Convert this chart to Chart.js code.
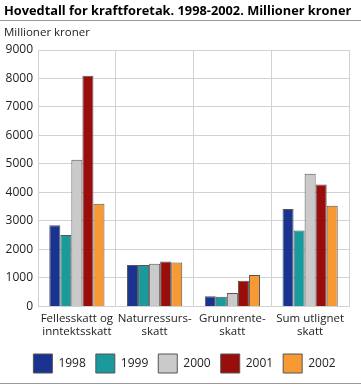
<!DOCTYPE html>
<html>
<head>
<meta charset="utf-8">
<script src="https://cdn.jsdelivr.net/npm/chart.js@4/dist/chart.umd.min.js"></script>
<style>
  body { margin: 0; width: 361px; height: 386px; overflow: hidden; background: #fff; font-family: "Open Sans", sans-serif; }
  #wrap { position: relative; width: 361px; height: 386px; }
  #title { position: absolute; left: 4px; top: 1px; font-size: 12.8px; font-weight: bold; color: #000; white-space: nowrap; }
  #unit { position: absolute; left: 4px; top: 24px; font-size: 11.5px; color: #222; }
  .rule { position: absolute; left: 0; width: 361px; height: 1px; background: #999; }
  canvas { position: absolute; left: 0; top: 0; }
</style>
</head>
<body>
<div id="wrap">
  <canvas id="chart" width="361" height="386"></canvas>
  <div id="title">Hovedtall for kraftforetak. 1998-2002. Millioner kroner</div>
  <div class="rule" style="top:20px"></div>
  <div id="unit">Millioner kroner</div>
  <div class="rule" style="top:383px"></div>
</div>
<script>
// categories and series
const categories = [["Fellesskatt og", "inntektsskatt"], ["Naturressurs-", "skatt"], ["Grunnrente-", "skatt"], ["Sum utlignet", "skatt"]];
const years = ["1998", "1999", "2000", "2001", "2002"];
const v1998 = [2850, 1450, 360, 3420];
const v1999 = [2510, 1450, 340, 2660];
const v2000 = [5150, 1500, 470, 4660];
const v2001 = [8100, 1580, 900, 4280];
const v2002 = [3600, 1545, 1100, 3530];
const colors = ["#1a3391", "#1a9a9a", "#cacaca", "#990e0b", "#f79a34"];

const series = [v1998, v1999, v2000, v2001, v2002];

const data = {
  labels: categories,
  datasets: years.map((y, i) => ({
    label: y,
    data: series[i],
    backgroundColor: colors[i],
    borderColor: "#555",
    borderWidth: 1,
    categoryPercentage: 0.71,
    barPercentage: 1
  }))
};

// nudge legend to the right so it sits centred like the original
const legendShift = {
  id: "legendShift",
  afterLayout(chart) {
    chart.legend.left += 10;
    chart.legend.right += 10;
  }
};

const config = {
  type: "bar",
  data: data,
  options: {
    responsive: false,
    animation: false,
    layout: { padding: { top: 50, left: 0, right: 12, bottom: 3 } },
    plugins: {
      legend: {
        position: "bottom",
        labels: {
          boxWidth: 19,
          boxHeight: 19,
          padding: 10,
          color: "#222",
          font: { family: "Open Sans", size: 12 }
        }
      },
      tooltip: { enabled: false }
    },
    scales: {
      x: {
        grid: { color: "#d2d2d2", drawTicks: false },
        border: { color: "#d2d2d2" },
        ticks: { color: "#222", font: { family: "Open Sans", size: 11.5 }, padding: 5, maxRotation: 0, autoSkip: false }
      },
      y: {
        min: 0,
        max: 9000,
        grid: { color: "#d2d2d2", drawTicks: false },
        border: { color: "#d2d2d2" },
        ticks: { stepSize: 1000, color: "#222", font: { family: "Open Sans", size: 12 }, padding: 5, callback: v => String(v) },
        afterFit(scale) { scale.width = 38; }
      }
    }
  },
  plugins: [legendShift]
};

const chart = new Chart(document.getElementById("chart"), config);
</script>
</body>
</html>
